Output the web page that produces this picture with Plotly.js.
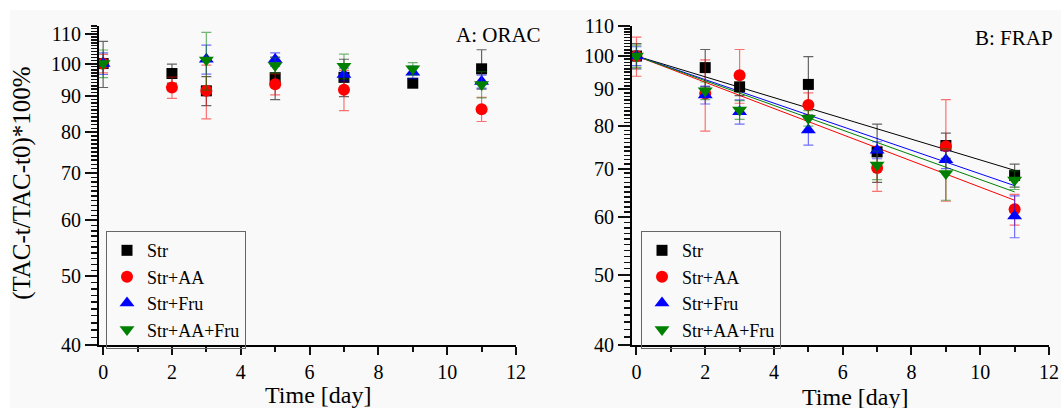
<!DOCTYPE html>
<html>
<head>
<meta charset="utf-8">
<script src="https://cdn.plot.ly/plotly-3.0.1.min.js"></script>
<style>
  html, body { margin: 0; padding: 0; background: #ffffff; }
  #chartA { position: absolute; left: 10px; top: 10px; width: 550px; height: 398px; }
  #chartB { position: absolute; left: 560px; top: 10px; width: 501px; height: 398px; }
</style>
</head>
<body>
<div id="chartA"></div>
<div id="chartB"></div>
<script>
// ---- data ----
const days = [0, 2, 3, 5, 7, 9, 11];
const seriesNames = ['Str', 'Str+AA', 'Str+Fru', 'Str+AA+Fru'];

// A: ORAC
const oracStr      = [100, 96.8, 91.5, 95.5, 95.6, 93.8, 98.3];
const oracStrErr   = [7.5, 3.0, 4.3, 6.6, 5.8, 1.0, 6.3];
const oracAA       = [100, 92.5, 91.5, 93.5, 91.8, null, 86.2];
const oracAAErr    = [3.0, 3.2, 8.0, 3.2, 6.0, null, 3.4];
const oracFru      = [100, null, 101.4, 101.3, 96.5, 97.2, 94.3];
const oracFruErr   = [3.5, null, 4.8, 2.2, 2.0, 2.0, 2.0];
const oracAAFru    = [100, null, 101.2, 99.4, 99.1, 98.3, 93.4];
const oracAAFruErr = [4.5, null, 9.5, 2.5, 4.0, 2.0, 4.0];

// B: FRAP
const frapStr      = [100, 96.4, 90.7, 91.4, 73.8, 75.3, 68.5];
const frapStrErr   = [4.0, 5.7, 2.5, 8.4, 6.8, 3.0, 2.5];
const frapAA       = [100, 88.8, 94.1, 85.6, 70.1, 75.1, 61.5];
const frapAAErr    = [6.2, 10.0, 8.0, 3.4, 5.0, 12.0, 3.0];
const frapFru      = [100, 88.4, 83.8, 79.1, 74.2, 72.0, 60.2];
const frapFruErr   = [3.0, 2.5, 3.2, 3.7, 2.0, 2.0, 4.0];
const frapAAFru    = [100, 89.6, 84.3, 82.1, 70.8, 68.9, 67.5];
const frapAAFruErr = [3.5, 2.5, 2.5, 2.0, 3.2, 5.6, 2.0];

// FRAP fitted lines (start / end)
const fitDays   = [0, 11];
const fitStr    = [100, 69.6];
const fitAA     = [100, 63.3];
const fitFru    = [100, 66.3];
const fitAAFru  = [100, 65.0];

// tick labels
const yTickVals  = [40, 50, 60, 70, 80, 90, 100, 110];
const xTickVals  = [0, 2, 4, 6, 8, 10, 12];
const xMinorVals = [1, 3, 5, 7, 9, 11];

// ---- styles ----
const colors    = ['#000000', '#ff0000', '#0000ff', '#008000'];
const errColors = ['rgba(0,0,0,0.6)', 'rgba(255,0,0,0.55)', 'rgba(0,0,255,0.55)', 'rgba(0,128,0,0.55)'];
const symbols   = ['square', 'circle', 'triangle-up', 'triangle-down'];
const sizes     = [11, 12, 13, 13];
const FONT = 'Liberation Serif, Times New Roman, serif';

function pointTrace(i, y, err) {
  return {
    type: 'scatter', mode: 'markers', x: days, y: y, name: seriesNames[i],
    marker: { color: colors[i], symbol: symbols[i], size: sizes[i], line: { width: 0 } },
    error_y: { type: 'data', array: err, visible: true, color: errColors[i], thickness: 1.2, width: 5 }
  };
}
function fitTrace(i, y) {
  return {
    type: 'scatter', mode: 'lines', x: fitDays, y: y,
    line: { color: colors[i], width: 1 }, showlegend: false, hoverinfo: 'skip'
  };
}

const minorY = [];
for (let v = 41; v <= 113; v++) if (yTickVals.indexOf(v) < 0) minorY.push(v);

function xAxis(r0) {
  return {
    range: [r0, 12],
    tickmode: 'array', tickvals: xTickVals, ticks: 'outside', ticklen: 8, tickwidth: 2, tickcolor: '#111111',
    minor: { tickmode: 'array', tickvals: xMinorVals, ticks: 'outside', ticklen: 5, tickwidth: 2, tickcolor: '#111111' },
    showline: true, linewidth: 2, linecolor: '#000', showgrid: false, zeroline: false
  };
}
function yAxis(top) {
  return {
    type: 'log', range: [Math.log10(40), Math.log10(top)],
    tickmode: 'array', tickvals: yTickVals,
    ticks: 'outside', ticklen: 12, tickwidth: 2, tickcolor: '#111111',
    minor: { tickmode: 'array', tickvals: minorY.filter(v => v <= top), ticks: 'outside', ticklen: 6, tickwidth: 1.5, tickcolor: '#111111' },
    showline: true, linewidth: 2, linecolor: '#000', showgrid: false, zeroline: false
  };
}
function legendAt(x) {
  return {
    x: x, y: 0.357, xanchor: 'left', yanchor: 'top',
    bgcolor: 'rgba(0,0,0,0)', bordercolor: '#666', borderwidth: 1,
    font: { family: FONT, size: 18, color: '#000' }, tracegroupgap: 0
  };
}
function note(text, x, y, xanchor, size, angle) {
  return { text: text, xref: 'paper', yref: 'paper', x: x, y: y, xanchor: xanchor, yanchor: 'middle',
           textangle: angle || 0, showarrow: false, font: { family: FONT, size: size, color: '#000' } };
}

const tracesA = [
  pointTrace(0, oracStr, oracStrErr),
  pointTrace(1, oracAA, oracAAErr),
  pointTrace(2, oracFru, oracFruErr),
  pointTrace(3, oracAAFru, oracAAFruErr)
];
const tracesB = [
  fitTrace(0, fitStr), fitTrace(1, fitAA), fitTrace(2, fitFru), fitTrace(3, fitAAFru),
  pointTrace(0, frapStr, frapStrErr),
  pointTrace(1, frapAA, frapAAErr),
  pointTrace(2, frapFru, frapFruErr),
  pointTrace(3, frapAAFru, frapAAFruErr)
];

const layoutA = {
  width: 550, height: 398,
  font: { family: FONT, size: 20, color: '#000' },
  paper_bgcolor: '#f9f9f9', plot_bgcolor: '#f9f9f9',
  margin: { l: 89, r: 44, t: 16, b: 63 },
  showlegend: true,
  xaxis: xAxis(-0.12),
  yaxis: yAxis(113),
  legend: legendAt(0.0168),
  annotations: [
    note('A: ORAC', 1.065, 0.972, 'right', 21),
    note('Time [day]', 0.525, -0.157, 'center', 24),
    note('(TAC-t/TAC-t0)*100%', -0.185, 0.508, 'center', 25, -90)
  ]
};
const layoutB = {
  width: 501, height: 398,
  font: { family: FONT, size: 20, color: '#000' },
  paper_bgcolor: '#f9f9f9', plot_bgcolor: '#f9f9f9',
  margin: { l: 72, r: 12, t: 16, b: 63 },
  showlegend: true,
  xaxis: xAxis(-0.13),
  yaxis: yAxis(110),
  legend: legendAt(0.0216),
  annotations: [
    note('B: FRAP', 1.014, 0.962, 'right', 21),
    note('Time [day]', 0.535, -0.163, 'center', 24)
  ]
};

Plotly.newPlot('chartA', tracesA, layoutA, { displayModeBar: false, staticPlot: true });
Plotly.newPlot('chartB', tracesB, layoutB, { displayModeBar: false, staticPlot: true });
</script>
</body>
</html>
